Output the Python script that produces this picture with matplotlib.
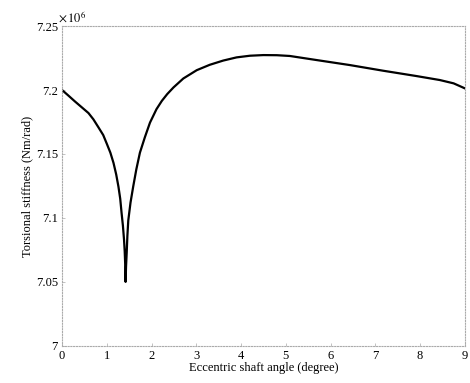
import numpy as np
import matplotlib.pyplot as plt

plt.rcParams['font.family'] = ['Liberation Serif', 'DejaVu Serif']
plt.rcParams['mathtext.fontset'] = 'stix'

# curve (angle in degree, stiffness in 1e6 Nm/rad)
angle = [0.0, 0.14, 0.29, 0.44, 0.59, 0.70, 0.81, 0.92, 1.0, 1.08, 1.15,
         1.21, 1.26, 1.30, 1.33, 1.36, 1.385, 1.40, 1.41, 1.42,
         1.43, 1.445, 1.46, 1.48, 1.53, 1.59, 1.66, 1.74, 1.85, 1.965,
         2.11, 2.23, 2.35, 2.49, 2.71, 3.01, 3.30, 3.60, 3.90, 4.20, 4.50,
         4.80, 5.09, 5.69, 6.43, 7.17, 7.92, 8.44, 8.75, 9.0]
stiff = [7.200, 7.1957, 7.191, 7.1865, 7.182, 7.1771, 7.171, 7.1648, 7.158,
         7.151, 7.143, 7.134, 7.1245, 7.115, 7.104, 7.094, 7.083, 7.074,
         7.065, 7.050, 7.062, 7.073, 7.086, 7.098, 7.112, 7.1245, 7.138,
         7.151, 7.163, 7.1745, 7.1850, 7.1915, 7.1968, 7.2020, 7.2090,
         7.2155, 7.2197, 7.2230, 7.2255, 7.2268, 7.2273, 7.2272, 7.2266,
         7.2234, 7.2195, 7.2151, 7.2109, 7.2078, 7.2052, 7.2013]

xticks = [0, 1, 2, 3, 4, 5, 6, 7, 8, 9]
yticks = [7.0, 7.05, 7.1, 7.15, 7.2, 7.25]
ylabels = ['7', '7.05', '7.1', '7.15', '7.2', '7.25']

fig = plt.figure(figsize=(4.7, 3.83), dpi=100)
ax = fig.add_axes([0.132, 0.097, 0.857, 0.835])

ax.plot(angle, stiff, color='black', linewidth=1.6)

ax.set_xlim(0, 9)
ax.set_ylim(7.0, 7.25)
ax.set_xticks(xticks)
ax.set_yticks(yticks)
ax.set_yticklabels(ylabels)
ax.tick_params(direction='in', length=2, width=0.5, color='#aaaaaa',
               labelsize=9, pad=3)

for s in ax.spines.values():
    s.set_color('#aaaaaa')
    s.set_linewidth(0.8)
    s.set_linestyle((0, (1, 1.5)))

ax.text(-0.01, 1.0, r'$\times\,10^{6}$', transform=ax.transAxes,
        fontsize=9, ha='left', va='bottom')

ax.set_xlabel('Eccentric shaft angle (degree)', fontsize=9, labelpad=0)
ax.set_ylabel('Torsional stiffness (Nm/rad)', fontsize=9, labelpad=2)

fig.savefig('out.png', dpi=100)
